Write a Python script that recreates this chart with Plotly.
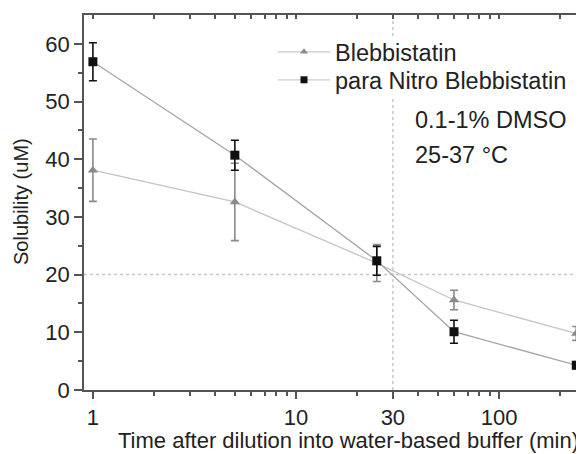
import plotly.graph_objects as go
import math

# Data
times = [1, 5, 25, 60, 240]
blebb = [38.1, 32.6, 22.0, 15.6, 9.8]
blebb_err = [5.4, 6.7, 3.2, 1.7, 1.2]
nitro = [56.9, 40.7, 22.4, 10.1, 4.3]
nitro_err = [3.3, 2.6, 2.5, 2.0, 0.6]
x_tickvals = [1, 10, 30, 100]
x_ticktext = ["1", "10", "30", "100"]
x_minor = [2, 3, 4, 5, 6, 7, 8, 9, 20, 40, 50, 60, 70, 80, 90, 200]
y_tickvals = [0, 10, 20, 30, 40, 50, 60]
y_minor = [5, 15, 25, 35, 45, 55]

FONT = "Liberation Sans, Arial, sans-serif"
TXT = "#222222"
AX = "#555555"
xr = [math.log10(0.904), math.log10(262)]
yr = [0, 65]

B_LINE, B_MARK = "#c4c4c4", "#8a8a8a"
N_LINE, N_MARK = "#a4a4a4", "#111111"
PLOT_W, PLOT_H = 500, 375


def px_x(p):  # page pixel -> paper x
    return (p - 84) / PLOT_W


def px_y(p):  # page pixel -> paper y
    return (390 - p) / PLOT_H


fig = go.Figure()
fig.add_trace(go.Scatter(
    x=times, y=blebb, name="Blebbistatin", mode="lines+markers", showlegend=False,
    line=dict(color=B_LINE, width=1.3),
    marker=dict(symbol="triangle-up", size=9, color=B_MARK),
    error_y=dict(type="data", array=blebb_err, color=B_MARK, thickness=1.6, width=4),
))
fig.add_trace(go.Scatter(
    x=times, y=nitro, name="para Nitro Blebbistatin", mode="lines+markers", showlegend=False,
    line=dict(color=N_LINE, width=1.3),
    marker=dict(symbol="square", size=9, color=N_MARK),
    error_y=dict(type="data", array=nitro_err, color=N_MARK, thickness=1.6, width=4),
))
# legend-only entries (no error bars in the legend)
fig.add_trace(go.Scatter(x=[None], y=[None], name="Blebbistatin", mode="lines+markers", legend="legend",
                         line=dict(color="#cccccc", width=1.3),
                         marker=dict(symbol="triangle-up", size=7, color=B_MARK)))
fig.add_trace(go.Scatter(x=[None], y=[None], name="para Nitro Blebbistatin", mode="lines+markers",
                         legend="legend2",
                         line=dict(color="#cccccc", width=1.3),
                         marker=dict(symbol="square", size=7, color=N_MARK)))
# helper trace for mirror axes
fig.add_trace(go.Scatter(x=[1], y=[0], xaxis="x2", yaxis="y2", mode="markers",
                         marker=dict(opacity=0), showlegend=False, hoverinfo="skip"))

# reference dotted lines
fig.add_shape(type="line", xref="paper", yref="y", x0=0, x1=1, y0=20, y1=20,
              line=dict(color="#c8c8c8", width=1.5, dash="dot"), layer="below")
fig.add_shape(type="line", xref="x", yref="paper", x0=30, x1=30, y0=0, y1=1,
              line=dict(color="#c8c8c8", width=1.5, dash="dot"), layer="below")
# white backing behind the legend text (hides the dotted line there)
fig.add_shape(type="rect", xref="paper", yref="paper", x0=px_x(332), x1=px_x(578),
              y0=px_y(96), y1=px_y(36), line=dict(width=0), fillcolor="white", layer="below")

fig.add_annotation(x=px_x(413), y=px_y(120), xref="paper", yref="paper", xanchor="left", yanchor="middle",
                   text="0.1-1% DMSO", showarrow=False, font=dict(family=FONT, size=23.5, color=TXT))
fig.add_annotation(x=px_x(413), y=px_y(155), xref="paper", yref="paper", xanchor="left", yanchor="middle",
                   text="25-37 °C", showarrow=False, font=dict(family=FONT, size=23.5, color=TXT))
# axis titles
fig.add_annotation(x=px_x(348), y=px_y(440), xref="paper", yref="paper", xanchor="center", yanchor="middle",
                   text="Time after dilution into water-based buffer (min)", showarrow=False,
                   font=dict(family=FONT, size=22, color=TXT))
fig.add_annotation(x=px_x(21), y=px_y(202), xref="paper", yref="paper", xanchor="center", yanchor="middle",
                   text="Solubility (uM)", textangle=-90, showarrow=False,
                   font=dict(family=FONT, size=20, color=TXT))

leg_common = dict(xanchor="left", yanchor="middle", bgcolor="rgba(255,255,255,0)",
                  font=dict(family=FONT, size=23.5, color=TXT), itemwidth=52)

# page has 8px body margin -> figure is 8px smaller, offsets compensated
fig.update_layout(
    width=576, height=446,
    margin=dict(l=76, r=0, t=7, b=64, autoexpand=False),
    paper_bgcolor="white", plot_bgcolor="white",
    font=dict(family=FONT, size=22, color=TXT),
    showlegend=True,
    legend=dict(x=px_x(273), y=px_y(52), **leg_common),
    legend2=dict(x=px_x(273), y=px_y(80), **leg_common),
    xaxis=dict(type="log", range=xr, tickvals=x_tickvals, ticktext=x_ticktext, automargin=False,
               ticks="outside", ticklen=7, tickwidth=1.5, tickcolor=AX,
               minor=dict(tickvals=x_minor, ticks="outside", ticklen=4, tickwidth=1.5, tickcolor=AX),
               showline=True, linecolor=AX, linewidth=1.5, showgrid=False, zeroline=False,
               tickfont=dict(family=FONT, size=22, color=TXT)),
    yaxis=dict(range=yr, tickvals=y_tickvals, ticks="outside", ticklen=8, tickwidth=1.5, tickcolor=AX,
               automargin=False,
               minor=dict(tickvals=y_minor, ticks="outside", ticklen=4, tickwidth=1.5, tickcolor=AX),
               showline=True, linecolor=AX, linewidth=1.5, showgrid=False, zeroline=False,
               tickfont=dict(family=FONT, size=22, color=TXT)),
    xaxis2=dict(type="log", range=xr, overlaying="x", side="top", anchor="y2", automargin=False,
                tickvals=x_tickvals + x_minor, ticks="inside", ticklen=4, tickwidth=1.5, tickcolor=AX,
                showticklabels=False, showline=True, linecolor=AX, linewidth=1.5, showgrid=False, zeroline=False),
    yaxis2=dict(range=yr, overlaying="y", side="right", anchor="x2", automargin=False,
                tickvals=y_tickvals + y_minor, ticks="inside", ticklen=4, tickwidth=1.5, tickcolor=AX,
                showticklabels=False, showline=False, showgrid=False, zeroline=False),
)

fig.write_html("out.html")
